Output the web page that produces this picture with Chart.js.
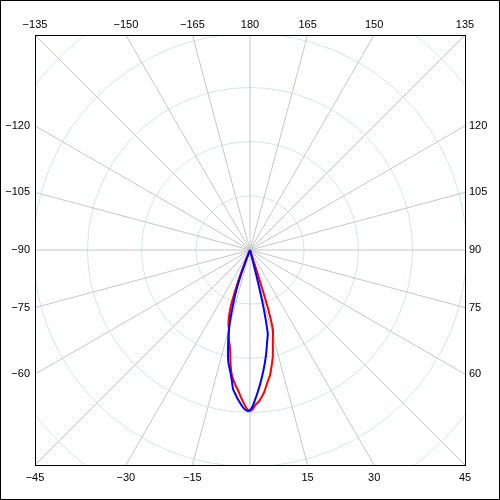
<!DOCTYPE html>
<html>
<head>
<meta charset="utf-8">
<script src="https://cdn.jsdelivr.net/npm/chart.js@4"></script>
<style>
  body { margin: 0; background: #fff; }
  canvas { display: block; }
</style>
</head>
<body>
<canvas id="polarChart" width="500" height="500"></canvas>
<script>
// Gia tri doc tu hinh (goc: do, 0 huong xuong; ban kinh: don vi luoi, 10 = 1 vong)
const redAngles = [-23, -22, -21, -20, -19, -18, -17, -16, -15, -14, -13, -12, -11, -10, -9, -8, -7, -6, -5, -4, -3, -2, -1, 0,
                   1, 2, 3, 4, 5, 6, 7, 8, 9, 10, 11, 12, 13, 14, 15, 16, 17, 17.5, 18, 18.5];
const redGain = [0, 3, 5.5, 8, 10.7, 12.3, 13.5, 14.4, 15.1, 16.2, 17.2, 18, 19.2, 20.8, 22.4, 23.6, 24.4, 25.2, 25.9, 26.8, 27.7, 28.6, 29.4, 29.7,
                 29.4, 28.6, 28.2, 27.6, 26.9, 26.1, 25.1, 24.2, 23.5, 22.4, 21.3, 20.2, 18.8, 17.4, 16.4, 15.4, 12, 8, 3, 0];

const blueAngles = [-21.5, -21, -20, -19, -18, -17, -16, -15, -14, -13, -12, -11, -10, -9, -8, -7, -6, -5, -4, -3, -2, -1, 0,
                    1, 2, 3, 4, 5, 6, 7, 8, 9, 10, 11, 12, 13, 13.5, 14, 14.5];
const blueGain = [0, 2, 5, 7.5, 9.2, 11, 13, 14.8, 16.5, 18, 19.6, 21, 22, 23, 24.2, 25.8, 26.6, 27.4, 28.1, 28.8, 29.4, 29.7, 29.6,
                  28.8, 27.6, 26.4, 25.2, 24, 22.8, 21.6, 20.4, 19.2, 17.9, 16.8, 15.8, 12, 9, 5, 0];

// Nhan goc tren khung, vong tron luoi
const angleTicks = [-135, -150, -165, 180, 165, 150, 135, 120, 105, 90, 75, 60, 45, 30, 15, -15, -30, -45, -60, -75, -90, -105, -120];
const spokeAngles = [0, 15, 30, 45, 60, 75, 90, 105, 120, 135, 150, 165, 180, -165, -150, -135, -120, -105, -90, -75, -60, -45, -30, -15];
const ringValues = [10, 20, 30, 40, 50];
const R_MAX = 39.7;

function toXY(angles, gains) {
    return angles.map((a, i) => {
        const t = a * Math.PI / 180;
        return { x: gains[i] * Math.sin(t), y: -gains[i] * Math.cos(t) };
    });
}

// Ve luoi cuc va nhan goc
const polarGrid = {
    id: 'polarGrid',
    beforeDatasetsDraw(chart) {
        const { ctx, chartArea: a, scales: { x, y } } = chart;
        const cx = x.getPixelForValue(0), cy = y.getPixelForValue(0);
        const unit = x.getPixelForValue(1) - cx;
        ctx.save();
        ctx.beginPath();
        ctx.rect(a.left, a.top, a.right - a.left, a.bottom - a.top);
        ctx.clip();
        ctx.lineWidth = 1;
        ctx.strokeStyle = '#cfe6ee';
        ringValues.forEach(r => {
            ctx.beginPath();
            ctx.arc(cx, cy, r * unit, 0, Math.PI * 2);
            ctx.stroke();
        });
        ctx.strokeStyle = '#c6c6c6';
        spokeAngles.forEach(deg => {
            const t = deg * Math.PI / 180;
            const s = Math.sin(t), c = Math.cos(t);
            const len = R_MAX / Math.max(Math.abs(s), Math.abs(c));
            ctx.beginPath();
            ctx.moveTo(cx, cy);
            ctx.lineTo(x.getPixelForValue(len * s), y.getPixelForValue(-len * c));
            ctx.stroke();
        });
        ctx.restore();

        ctx.save();
        ctx.fillStyle = '#000';
        ctx.font = '11px "Liberation Sans", Arial, sans-serif';
        angleTicks.forEach(deg => {
            const t = deg * Math.PI / 180;
            const s = Math.sin(t), c = Math.cos(t);
            const len = R_MAX / Math.max(Math.abs(s), Math.abs(c));
            const px = x.getPixelForValue(len * s), py = y.getPixelForValue(-len * c);
            const txt = deg < 0 ? '\u2212' + Math.abs(deg) : String(deg);
            if (Math.abs(c) >= Math.abs(s) - 1e-6) {
                ctx.textAlign = 'center';
                ctx.textBaseline = 'middle';
                ctx.fillText(txt, px, c < 0 ? a.top - 10 : a.bottom + 13);
            } else {
                ctx.textBaseline = 'middle';
                ctx.textAlign = s < 0 ? 'right' : 'left';
                ctx.fillText(txt, s < 0 ? a.left - 5 : a.right + 4, py);
            }
        });
        ctx.restore();
    },
    afterDraw(chart) {
        const { ctx, chartArea: a } = chart;
        ctx.save();
        ctx.strokeStyle = '#000';
        ctx.lineWidth = 1;
        ctx.strokeRect(a.left + 0.5, a.top + 0.5, a.right - a.left, a.bottom - a.top);
        ctx.strokeRect(0.5, 0.5, chart.width - 1, chart.height - 1);
        ctx.restore();
    }
};

new Chart(document.getElementById('polarChart'), {
    type: 'scatter',
    data: {
        datasets: [
            // order lon ve truoc -> xanh nam tren do
            { label: 'Red', data: toXY(redAngles, redGain), borderColor: '#ff0000', borderWidth: 2, showLine: true, pointRadius: 0, tension: 0.2, order: 1 },
            { label: 'Blue', data: toXY(blueAngles, blueGain), borderColor: '#0000ff', borderWidth: 2, showLine: true, pointRadius: 0, tension: 0.2, order: 0 }
        ]
    },
    options: {
        responsive: false,
        animation: false,
        devicePixelRatio: 1,
        layout: { padding: { left: 35, top: 35, right: 35, bottom: 35 } },
        scales: {
            x: { type: 'linear', min: -R_MAX, max: R_MAX, display: false },
            y: { type: 'linear', min: -R_MAX, max: R_MAX, display: false }
        },
        plugins: { legend: { display: false }, tooltip: { enabled: false } }
    },
    plugins: [polarGrid]
});
</script>
</body>
</html>
